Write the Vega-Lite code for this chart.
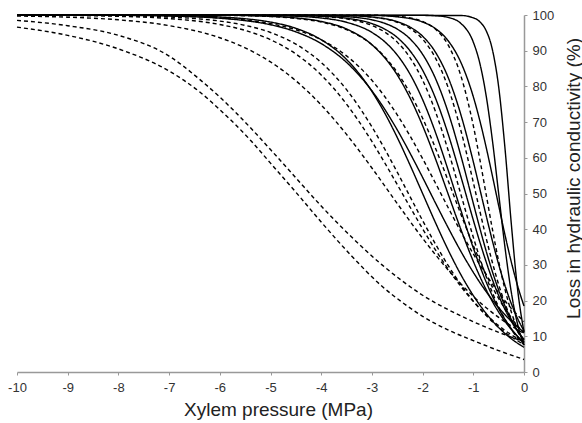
{
"$schema": "https://vega.github.io/schema/vega-lite/v6.json",
"width": 507, "height": 357,
"autosize": {"type": "none"},
"padding": {"left": 17, "top": 15, "right": 58, "bottom": 51},
"background": "white",
"config": {"view": {"stroke": null}, "font": "Liberation Sans"},
"data": {"values": [
{"c":"S1","s":"solid","x":-10,"y":100},{"c":"S1","s":"solid","x":-1.25,"y":99.86},{"c":"S1","s":"solid","x":-1,"y":99.21},{"c":"S1","s":"solid","x":-0.875,"y":98.15},{"c":"S1","s":"solid","x":-0.75,"y":95.71},{"c":"S1","s":"solid","x":-0.625,"y":90.4},{"c":"S1","s":"solid","x":-0.5,"y":79.9},{"c":"S1","s":"solid","x":-0.375,"y":62.65},{"c":"S1","s":"solid","x":-0.25,"y":41.46},{"c":"S1","s":"solid","x":-0.125,"y":23.01},{"c":"S1","s":"solid","x":0,"y":11.2},
{"c":"S2","s":"solid","x":-10,"y":100},{"c":"S2","s":"solid","x":-2,"y":99.94},{"c":"S2","s":"solid","x":-1.75,"y":99.81},{"c":"S2","s":"solid","x":-1.5,"y":99.33},{"c":"S2","s":"solid","x":-1.25,"y":97.7},{"c":"S2","s":"solid","x":-1,"y":92.4},{"c":"S2","s":"solid","x":-0.875,"y":86.7},{"c":"S2","s":"solid","x":-0.75,"y":77.7},{"c":"S2","s":"solid","x":-0.625,"y":65.1},{"c":"S2","s":"solid","x":-0.5,"y":50},{"c":"S2","s":"solid","x":-0.375,"y":34.9},{"c":"S2","s":"solid","x":-0.25,"y":22.3},{"c":"S2","s":"solid","x":-0.125,"y":13.3},{"c":"S2","s":"solid","x":0,"y":7.59},
{"c":"Sa","s":"solid","x":-10,"y":100},{"c":"Sa","s":"solid","x":-3,"y":99.87},{"c":"Sa","s":"solid","x":-2.5,"y":99.49},{"c":"Sa","s":"solid","x":-2,"y":98.04},{"c":"Sa","s":"solid","x":-1.75,"y":96.23},{"c":"Sa","s":"solid","x":-1.5,"y":92.86},{"c":"Sa","s":"solid","x":-1.25,"y":86.88},{"c":"Sa","s":"solid","x":-1,"y":77.12},{"c":"Sa","s":"solid","x":-0.875,"y":70.63},{"c":"Sa","s":"solid","x":-0.75,"y":63.18},{"c":"Sa","s":"solid","x":-0.625,"y":55.05},{"c":"Sa","s":"solid","x":-0.5,"y":46.63},{"c":"Sa","s":"solid","x":-0.375,"y":38.4},{"c":"Sa","s":"solid","x":-0.25,"y":30.79},{"c":"Sa","s":"solid","x":-0.125,"y":24.1},{"c":"Sa","s":"solid","x":0,"y":18.47},
{"c":"Da","s":"dashed","x":-10,"y":100},{"c":"Da","s":"dashed","x":-3,"y":99.93},{"c":"Da","s":"dashed","x":-2.5,"y":99.63},{"c":"Da","s":"dashed","x":-2.25,"y":99.18},{"c":"Da","s":"dashed","x":-2,"y":98.2},{"c":"Da","s":"dashed","x":-1.75,"y":96.08},{"c":"Da","s":"dashed","x":-1.5,"y":91.68},{"c":"Da","s":"dashed","x":-1.25,"y":83.2},{"c":"Da","s":"dashed","x":-1,"y":69.0},{"c":"Da","s":"dashed","x":-0.875,"y":59.87},{"c":"Da","s":"dashed","x":-0.75,"y":50},{"c":"Da","s":"dashed","x":-0.625,"y":40.13},{"c":"Da","s":"dashed","x":-0.5,"y":31.0},{"c":"Da","s":"dashed","x":-0.375,"y":23.15},{"c":"Da","s":"dashed","x":-0.25,"y":16.8},{"c":"Da","s":"dashed","x":-0.125,"y":11.92},{"c":"Da","s":"dashed","x":0,"y":8.32},
{"c":"Sb","s":"solid","x":-10,"y":100},{"c":"Sb","s":"solid","x":-3.5,"y":99.83},{"c":"Sb","s":"solid","x":-3,"y":99.43},{"c":"Sb","s":"solid","x":-2.5,"y":98.13},{"c":"Sb","s":"solid","x":-2.25,"y":96.64},{"c":"Sb","s":"solid","x":-2,"y":94.05},{"c":"Sb","s":"solid","x":-1.75,"y":89.66},{"c":"Sb","s":"solid","x":-1.5,"y":82.64},{"c":"Sb","s":"solid","x":-1.25,"y":72.31},{"c":"Sb","s":"solid","x":-1,"y":58.9},{"c":"Sb","s":"solid","x":-0.875,"y":51.5},{"c":"Sb","s":"solid","x":-0.75,"y":44.03},{"c":"Sb","s":"solid","x":-0.625,"y":36.82},{"c":"Sb","s":"solid","x":-0.5,"y":30.15},{"c":"Sb","s":"solid","x":-0.375,"y":24.23},{"c":"Sb","s":"solid","x":-0.25,"y":19.15},{"c":"Sb","s":"solid","x":-0.125,"y":14.93},{"c":"Sb","s":"solid","x":0,"y":11.51},
{"c":"Db","s":"dashed","x":-10,"y":100},{"c":"Db","s":"dashed","x":-3.5,"y":99.83},{"c":"Db","s":"dashed","x":-3,"y":99.41},{"c":"Db","s":"dashed","x":-2.5,"y":97.97},{"c":"Db","s":"dashed","x":-2.25,"y":96.27},{"c":"Db","s":"dashed","x":-2,"y":93.25},{"c":"Db","s":"dashed","x":-1.75,"y":88.08},{"c":"Db","s":"dashed","x":-1.5,"y":79.82},{"c":"Db","s":"dashed","x":-1.25,"y":67.92},{"c":"Db","s":"dashed","x":-1,"y":53.12},{"c":"Db","s":"dashed","x":-0.875,"y":45.33},{"c":"Db","s":"dashed","x":-0.75,"y":37.75},{"c":"Db","s":"dashed","x":-0.625,"y":30.74},{"c":"Db","s":"dashed","x":-0.5,"y":24.51},{"c":"Db","s":"dashed","x":-0.375,"y":19.19},{"c":"Db","s":"dashed","x":-0.25,"y":14.8},{"c":"Db","s":"dashed","x":-0.125,"y":11.28},{"c":"Db","s":"dashed","x":0,"y":8.51},
{"c":"Sc","s":"solid","x":-10,"y":100},{"c":"Sc","s":"solid","x":-4,"y":99.85},{"c":"Sc","s":"solid","x":-3.5,"y":99.55},{"c":"Sc","s":"solid","x":-3,"y":98.65},{"c":"Sc","s":"solid","x":-2.75,"y":97.68},{"c":"Sc","s":"solid","x":-2.5,"y":96.05},{"c":"Sc","s":"solid","x":-2.25,"y":93.34},{"c":"Sc","s":"solid","x":-2,"y":89.0},{"c":"Sc","s":"solid","x":-1.75,"y":82.34},{"c":"Sc","s":"solid","x":-1.5,"y":72.91},{"c":"Sc","s":"solid","x":-1.25,"y":60.83},{"c":"Sc","s":"solid","x":-1,"y":47.25},{"c":"Sc","s":"solid","x":-0.875,"y":40.49},{"c":"Sc","s":"solid","x":-0.75,"y":34.07},{"c":"Sc","s":"solid","x":-0.625,"y":28.19},{"c":"Sc","s":"solid","x":-0.5,"y":22.97},{"c":"Sc","s":"solid","x":-0.375,"y":18.47},{"c":"Sc","s":"solid","x":-0.25,"y":14.68},{"c":"Sc","s":"solid","x":-0.125,"y":11.56},{"c":"Sc","s":"solid","x":0,"y":9.03},
{"c":"Sd","s":"solid","x":-10,"y":100},{"c":"Sd","s":"solid","x":-4.5,"y":99.88},{"c":"Sd","s":"solid","x":-4,"y":99.67},{"c":"Sd","s":"solid","x":-3.5,"y":99.1},{"c":"Sd","s":"solid","x":-3,"y":97.59},{"c":"Sd","s":"solid","x":-2.75,"y":96.08},{"c":"Sd","s":"solid","x":-2.5,"y":93.7},{"c":"Sd","s":"solid","x":-2.25,"y":90.0},{"c":"Sd","s":"solid","x":-2,"y":84.55},{"c":"Sd","s":"solid","x":-1.75,"y":76.85},{"c":"Sd","s":"solid","x":-1.5,"y":66.82},{"c":"Sd","s":"solid","x":-1.25,"y":54.98},{"c":"Sd","s":"solid","x":-1,"y":42.56},{"c":"Sd","s":"solid","x":-0.875,"y":36.59},{"c":"Sd","s":"solid","x":-0.75,"y":31.0},{"c":"Sd","s":"solid","x":-0.625,"y":25.92},{"c":"Sd","s":"solid","x":-0.5,"y":21.42},{"c":"Sd","s":"solid","x":-0.375,"y":17.51},{"c":"Sd","s":"solid","x":-0.25,"y":14.19},{"c":"Sd","s":"solid","x":-0.125,"y":11.4},{"c":"Sd","s":"solid","x":0,"y":9.11},
{"c":"Dc","s":"dashed","x":-10,"y":100},{"c":"Dc","s":"dashed","x":-4.5,"y":99.85},{"c":"Dc","s":"dashed","x":-4,"y":99.59},{"c":"Dc","s":"dashed","x":-3.5,"y":98.9},{"c":"Dc","s":"dashed","x":-3,"y":97.07},{"c":"Dc","s":"dashed","x":-2.75,"y":95.26},{"c":"Dc","s":"dashed","x":-2.5,"y":92.4},{"c":"Dc","s":"dashed","x":-2.25,"y":88.08},{"c":"Dc","s":"dashed","x":-2,"y":81.76},{"c":"Dc","s":"dashed","x":-1.75,"y":73.1},{"c":"Dc","s":"dashed","x":-1.5,"y":62.25},{"c":"Dc","s":"dashed","x":-1.25,"y":50},{"c":"Dc","s":"dashed","x":-1,"y":37.75},{"c":"Dc","s":"dashed","x":-0.875,"y":32.08},{"c":"Dc","s":"dashed","x":-0.75,"y":26.9},{"c":"Dc","s":"dashed","x":-0.625,"y":22.27},{"c":"Dc","s":"dashed","x":-0.5,"y":18.24},{"c":"Dc","s":"dashed","x":-0.375,"y":14.8},{"c":"Dc","s":"dashed","x":-0.25,"y":11.92},{"c":"Dc","s":"dashed","x":-0.125,"y":9.53},{"c":"Dc","s":"dashed","x":0,"y":7.59},
{"c":"Se","s":"solid","x":-10,"y":100},{"c":"Se","s":"solid","x":-5,"y":99.86},{"c":"Se","s":"solid","x":-4.5,"y":99.66},{"c":"Se","s":"solid","x":-4,"y":99.16},{"c":"Se","s":"solid","x":-3.5,"y":97.96},{"c":"Se","s":"solid","x":-3,"y":95.12},{"c":"Se","s":"solid","x":-2.75,"y":92.55},{"c":"Se","s":"solid","x":-2.5,"y":88.79},{"c":"Se","s":"solid","x":-2.25,"y":83.48},{"c":"Se","s":"solid","x":-2,"y":76.31},{"c":"Se","s":"solid","x":-1.75,"y":67.26},{"c":"Se","s":"solid","x":-1.5,"y":56.71},{"c":"Se","s":"solid","x":-1.25,"y":45.51},{"c":"Se","s":"solid","x":-1,"y":34.75},{"c":"Se","s":"solid","x":-0.875,"y":29.84},{"c":"Se","s":"solid","x":-0.75,"y":25.35},{"c":"Se","s":"solid","x":-0.625,"y":21.33},{"c":"Se","s":"solid","x":-0.5,"y":17.8},{"c":"Se","s":"solid","x":-0.375,"y":14.74},{"c":"Se","s":"solid","x":-0.25,"y":12.13},{"c":"Se","s":"solid","x":-0.125,"y":9.93},{"c":"Se","s":"solid","x":0,"y":8.09},
{"c":"Sf","s":"solid","x":-10,"y":100},{"c":"Sf","s":"solid","x":-6,"y":99.93},{"c":"Sf","s":"solid","x":-5,"y":99.63},{"c":"Sf","s":"solid","x":-4.5,"y":99.18},{"c":"Sf","s":"solid","x":-4,"y":98.2},{"c":"Sf","s":"solid","x":-3.5,"y":96.08},{"c":"Sf","s":"solid","x":-3,"y":91.68},{"c":"Sf","s":"solid","x":-2.75,"y":88.08},{"c":"Sf","s":"solid","x":-2.5,"y":83.2},{"c":"Sf","s":"solid","x":-2.25,"y":76.85},{"c":"Sf","s":"solid","x":-2,"y":69.0},{"c":"Sf","s":"solid","x":-1.75,"y":59.87},{"c":"Sf","s":"solid","x":-1.5,"y":50},{"c":"Sf","s":"solid","x":-1.25,"y":40.13},{"c":"Sf","s":"solid","x":-1,"y":31.0},{"c":"Sf","s":"solid","x":-0.875,"y":26.9},{"c":"Sf","s":"solid","x":-0.75,"y":23.15},{"c":"Sf","s":"solid","x":-0.625,"y":19.78},{"c":"Sf","s":"solid","x":-0.5,"y":16.8},{"c":"Sf","s":"solid","x":-0.375,"y":14.19},{"c":"Sf","s":"solid","x":-0.25,"y":11.92},{"c":"Sf","s":"solid","x":-0.125,"y":9.97},{"c":"Sf","s":"solid","x":0,"y":8.32},
{"c":"Dd","s":"dashed","x":-10,"y":100},{"c":"Dd","s":"dashed","x":-6,"y":99.9},{"c":"Dd","s":"dashed","x":-5,"y":99.55},{"c":"Dd","s":"dashed","x":-4.5,"y":99.05},{"c":"Dd","s":"dashed","x":-4,"y":98.02},{"c":"Dd","s":"dashed","x":-3.5,"y":95.89},{"c":"Dd","s":"dashed","x":-3,"y":91.68},{"c":"Dd","s":"dashed","x":-2.75,"y":88.34},{"c":"Dd","s":"dashed","x":-2.5,"y":83.89},{"c":"Dd","s":"dashed","x":-2.25,"y":78.16},{"c":"Dd","s":"dashed","x":-2,"y":71.1},{"c":"Dd","s":"dashed","x":-1.75,"y":62.83},{"c":"Dd","s":"dashed","x":-1.5,"y":53.74},{"c":"Dd","s":"dashed","x":-1.25,"y":44.4},{"c":"Dd","s":"dashed","x":-1,"y":35.43},{"c":"Dd","s":"dashed","x":-0.75,"y":27.39},{"c":"Dd","s":"dashed","x":-0.5,"y":20.59},{"c":"Dd","s":"dashed","x":-0.25,"y":15.12},{"c":"Dd","s":"dashed","x":0,"y":10.91},
{"c":"Sh","s":"solid","x":-10,"y":99.99},{"c":"Sh","s":"solid","x":-8,"y":99.96},{"c":"Sh","s":"solid","x":-7,"y":99.85},{"c":"Sh","s":"solid","x":-6,"y":99.45},{"c":"Sh","s":"solid","x":-5.5,"y":98.95},{"c":"Sh","s":"solid","x":-5,"y":98.02},{"c":"Sh","s":"solid","x":-4.5,"y":96.27},{"c":"Sh","s":"solid","x":-4,"y":93.08},{"c":"Sh","s":"solid","x":-3.5,"y":87.54},{"c":"Sh","s":"solid","x":-3,"y":78.59},{"c":"Sh","s":"solid","x":-2.75,"y":72.61},{"c":"Sh","s":"solid","x":-2.5,"y":65.7},{"c":"Sh","s":"solid","x":-2.25,"y":58.05},{"c":"Sh","s":"solid","x":-2,"y":50},{"c":"Sh","s":"solid","x":-1.75,"y":41.95},{"c":"Sh","s":"solid","x":-1.5,"y":34.3},{"c":"Sh","s":"solid","x":-1.25,"y":27.39},{"c":"Sh","s":"solid","x":-1,"y":21.42},{"c":"Sh","s":"solid","x":-0.75,"y":16.45},{"c":"Sh","s":"solid","x":-0.5,"y":12.45},{"c":"Sh","s":"solid","x":-0.25,"y":9.32},{"c":"Sh","s":"solid","x":0,"y":6.91},
{"c":"Sg","s":"solid","x":-10,"y":99.99},{"c":"Sg","s":"solid","x":-8,"y":99.9},{"c":"Sg","s":"solid","x":-7,"y":99.71},{"c":"Sg","s":"solid","x":-6,"y":99.1},{"c":"Sg","s":"solid","x":-5.5,"y":98.43},{"c":"Sg","s":"solid","x":-5,"y":97.27},{"c":"Sg","s":"solid","x":-4.5,"y":95.28},{"c":"Sg","s":"solid","x":-4,"y":91.99},{"c":"Sg","s":"solid","x":-3.5,"y":86.72},{"c":"Sg","s":"solid","x":-3,"y":78.77},{"c":"Sg","s":"solid","x":-2.5,"y":67.83},{"c":"Sg","s":"solid","x":-2.25,"y":61.37},{"c":"Sg","s":"solid","x":-2,"y":54.51},{"c":"Sg","s":"solid","x":-1.75,"y":47.45},{"c":"Sg","s":"solid","x":-1.5,"y":40.52},{"c":"Sg","s":"solid","x":-1.25,"y":33.92},{"c":"Sg","s":"solid","x":-1,"y":27.91},{"c":"Sg","s":"solid","x":-0.75,"y":22.58},{"c":"Sg","s":"solid","x":-0.5,"y":18.03},{"c":"Sg","s":"solid","x":-0.25,"y":14.22},{"c":"Sg","s":"solid","x":0,"y":11.11},
{"c":"De","s":"dashed","x":-10,"y":99.98},{"c":"De","s":"dashed","x":-8,"y":99.91},{"c":"De","s":"dashed","x":-7,"y":99.73},{"c":"De","s":"dashed","x":-6,"y":99.18},{"c":"De","s":"dashed","x":-5.5,"y":98.59},{"c":"De","s":"dashed","x":-5,"y":97.58},{"c":"De","s":"dashed","x":-4.5,"y":95.87},{"c":"De","s":"dashed","x":-4,"y":93.06},{"c":"De","s":"dashed","x":-3.5,"y":88.55},{"c":"De","s":"dashed","x":-3,"y":81.7},{"c":"De","s":"dashed","x":-2.5,"y":72.03},{"c":"De","s":"dashed","x":-2.25,"y":66.18},{"c":"De","s":"dashed","x":-2,"y":59.77},{"c":"De","s":"dashed","x":-1.75,"y":53.02},{"c":"De","s":"dashed","x":-1.5,"y":46.16},{"c":"De","s":"dashed","x":-1.25,"y":39.43},{"c":"De","s":"dashed","x":-1,"y":33.09},{"c":"De","s":"dashed","x":-0.75,"y":27.31},{"c":"De","s":"dashed","x":-0.5,"y":22.2},{"c":"De","s":"dashed","x":-0.25,"y":17.81},{"c":"De","s":"dashed","x":0,"y":14.14},
{"c":"Df","s":"dashed","x":-10,"y":99.98},{"c":"Df","s":"dashed","x":-9,"y":99.93},{"c":"Df","s":"dashed","x":-8,"y":99.8},{"c":"Df","s":"dashed","x":-7,"y":99.42},{"c":"Df","s":"dashed","x":-6,"y":98.3},{"c":"Df","s":"dashed","x":-5.5,"y":97.1},{"c":"Df","s":"dashed","x":-5,"y":95.1},{"c":"Df","s":"dashed","x":-4.5,"y":91.83},{"c":"Df","s":"dashed","x":-4,"y":86.7},{"c":"Df","s":"dashed","x":-3.5,"y":79.08},{"c":"Df","s":"dashed","x":-3,"y":68.68},{"c":"Df","s":"dashed","x":-2.75,"y":62.53},{"c":"Df","s":"dashed","x":-2.5,"y":55.97},{"c":"Df","s":"dashed","x":-2.25,"y":49.18},{"c":"Df","s":"dashed","x":-2,"y":42.43},{"c":"Df","s":"dashed","x":-1.75,"y":35.94},{"c":"Df","s":"dashed","x":-1.5,"y":29.94},{"c":"Df","s":"dashed","x":-1.25,"y":24.55},{"c":"Df","s":"dashed","x":-1,"y":19.86},{"c":"Df","s":"dashed","x":-0.75,"y":15.87},{"c":"Df","s":"dashed","x":-0.5,"y":12.56},{"c":"Df","s":"dashed","x":-0.25,"y":9.86},{"c":"Df","s":"dashed","x":0,"y":7.69},
{"c":"Dg","s":"dashed","x":-10,"y":99.95},{"c":"Dg","s":"dashed","x":-9,"y":99.86},{"c":"Dg","s":"dashed","x":-8,"y":99.63},{"c":"Dg","s":"dashed","x":-7,"y":99.0},{"c":"Dg","s":"dashed","x":-6,"y":97.34},{"c":"Dg","s":"dashed","x":-5.5,"y":95.69},{"c":"Dg","s":"dashed","x":-5,"y":93.08},{"c":"Dg","s":"dashed","x":-4.5,"y":89.09},{"c":"Dg","s":"dashed","x":-4,"y":83.2},{"c":"Dg","s":"dashed","x":-3.5,"y":75.03},{"c":"Dg","s":"dashed","x":-3,"y":64.57},{"c":"Dg","s":"dashed","x":-2.75,"y":58.66},{"c":"Dg","s":"dashed","x":-2.5,"y":52.5},{"c":"Dg","s":"dashed","x":-2.25,"y":46.26},{"c":"Dg","s":"dashed","x":-2,"y":40.13},{"c":"Dg","s":"dashed","x":-1.75,"y":34.3},{"c":"Dg","s":"dashed","x":-1.5,"y":28.9},{"c":"Dg","s":"dashed","x":-1.25,"y":24.05},{"c":"Dg","s":"dashed","x":-1,"y":19.78},{"c":"Dg","s":"dashed","x":-0.75,"y":16.11},{"c":"Dg","s":"dashed","x":-0.5,"y":13.01},{"c":"Dg","s":"dashed","x":-0.25,"y":10.43},{"c":"Dg","s":"dashed","x":0,"y":8.32},
{"c":"Dh","s":"dashed","x":-10,"y":99.72},{"c":"Dh","s":"dashed","x":-9,"y":99.39},{"c":"Dh","s":"dashed","x":-8,"y":98.65},{"c":"Dh","s":"dashed","x":-7,"y":97.03},{"c":"Dh","s":"dashed","x":-6,"y":93.63},{"c":"Dh","s":"dashed","x":-5.5,"y":90.79},{"c":"Dh","s":"dashed","x":-5,"y":86.85},{"c":"Dh","s":"dashed","x":-4.5,"y":81.58},{"c":"Dh","s":"dashed","x":-4,"y":74.8},{"c":"Dh","s":"dashed","x":-3.5,"y":66.55},{"c":"Dh","s":"dashed","x":-3,"y":57.15},{"c":"Dh","s":"dashed","x":-2.5,"y":47.2},{"c":"Dh","s":"dashed","x":-2,"y":37.47},{"c":"Dh","s":"dashed","x":-1.5,"y":28.66},{"c":"Dh","s":"dashed","x":-1,"y":21.21},{"c":"Dh","s":"dashed","x":-0.5,"y":15.29},{"c":"Dh","s":"dashed","x":0,"y":10.79},
{"c":"B1","s":"dashed","x":-10,"y":96.6},{"c":"B1","s":"dashed","x":-9,"y":94.3},{"c":"B1","s":"dashed","x":-8,"y":90.5},{"c":"B1","s":"dashed","x":-7,"y":84.3},{"c":"B1","s":"dashed","x":-6.4,"y":78.5},{"c":"B1","s":"dashed","x":-6,"y":73.5},{"c":"B1","s":"dashed","x":-5.4,"y":65},{"c":"B1","s":"dashed","x":-5,"y":58.5},{"c":"B1","s":"dashed","x":-4.6,"y":52},{"c":"B1","s":"dashed","x":-4.4,"y":48.7},{"c":"B1","s":"dashed","x":-4,"y":42},{"c":"B1","s":"dashed","x":-3.4,"y":32.5},{"c":"B1","s":"dashed","x":-2.8,"y":24},{"c":"B1","s":"dashed","x":-2.4,"y":19.5},{"c":"B1","s":"dashed","x":-2,"y":15.6},{"c":"B1","s":"dashed","x":-1.5,"y":11.8},{"c":"B1","s":"dashed","x":-1,"y":8.8},{"c":"B1","s":"dashed","x":-0.5,"y":6.0},{"c":"B1","s":"dashed","x":0,"y":3.5},
{"c":"B2","s":"dashed","x":-10,"y":98.5},{"c":"B2","s":"dashed","x":-9,"y":97},{"c":"B2","s":"dashed","x":-8,"y":94.3},{"c":"B2","s":"dashed","x":-7,"y":88.5},{"c":"B2","s":"dashed","x":-6.4,"y":82},{"c":"B2","s":"dashed","x":-6,"y":77},{"c":"B2","s":"dashed","x":-5.4,"y":68.5},{"c":"B2","s":"dashed","x":-5,"y":62.3},{"c":"B2","s":"dashed","x":-4.6,"y":56},{"c":"B2","s":"dashed","x":-4.4,"y":52.8},{"c":"B2","s":"dashed","x":-4,"y":46.5},{"c":"B2","s":"dashed","x":-3.4,"y":37.8},{"c":"B2","s":"dashed","x":-2.8,"y":30},{"c":"B2","s":"dashed","x":-2.4,"y":25.5},{"c":"B2","s":"dashed","x":-2,"y":21.5},{"c":"B2","s":"dashed","x":-1.5,"y":17.5},{"c":"B2","s":"dashed","x":-1,"y":14.1},{"c":"B2","s":"dashed","x":-0.5,"y":11.1},{"c":"B2","s":"dashed","x":0,"y":8.5}
]},
"mark": {"type": "line", "interpolate": "monotone", "color": "black", "strokeWidth": 1.4},
"encoding": {
  "x": {"field": "x", "type": "quantitative", "scale": {"domain": [-10, 0], "nice": false},
        "axis": {"title": "Xylem pressure (MPa)", "values": [-10,-9,-8,-7,-6,-5,-4,-3,-2,-1,0], "grid": false,
                 "labelExpr": "'' + datum.value",
                 "domainColor": "#999", "domainWidth": 1.5, "tickColor": "#999", "tickSize": 3, "tickWidth": 1,
                 "labelFontSize": 13, "labelColor": "#333", "labelPadding": 6, "labelFlush": false,
                 "titleFontSize": 19, "titleFontWeight": "normal", "titleColor": "#222",
                 "titleX": 261, "titleY": 43, "titleAlign": "center", "titleBaseline": "alphabetic"}},
  "y": {"field": "y", "type": "quantitative", "scale": {"domain": [0, 100], "nice": false},
        "axis": {"orient": "right", "title": "Loss in hydraulic conductivity (%)", "values": [0,10,20,30,40,50,60,70,80,90,100], "grid": false,
                 "domainColor": "#999", "domainWidth": 1.5, "tickColor": "#999", "tickSize": 3, "tickWidth": 1,
                 "labelFontSize": 13, "labelColor": "#333", "labelPadding": 5,
                 "titleFontSize": 19, "titleFontWeight": "normal", "titleColor": "#222",
                 "titleAngle": 270, "titleX": 55, "titleY": 163, "titleAlign": "center", "titleBaseline": "alphabetic"}},
  "detail": {"field": "c", "type": "nominal"},
  "strokeDash": {"field": "s", "type": "nominal", "scale": {"domain": ["solid", "dashed"], "range": [[1, 0], [4, 3]]}, "legend": null}
}
}
